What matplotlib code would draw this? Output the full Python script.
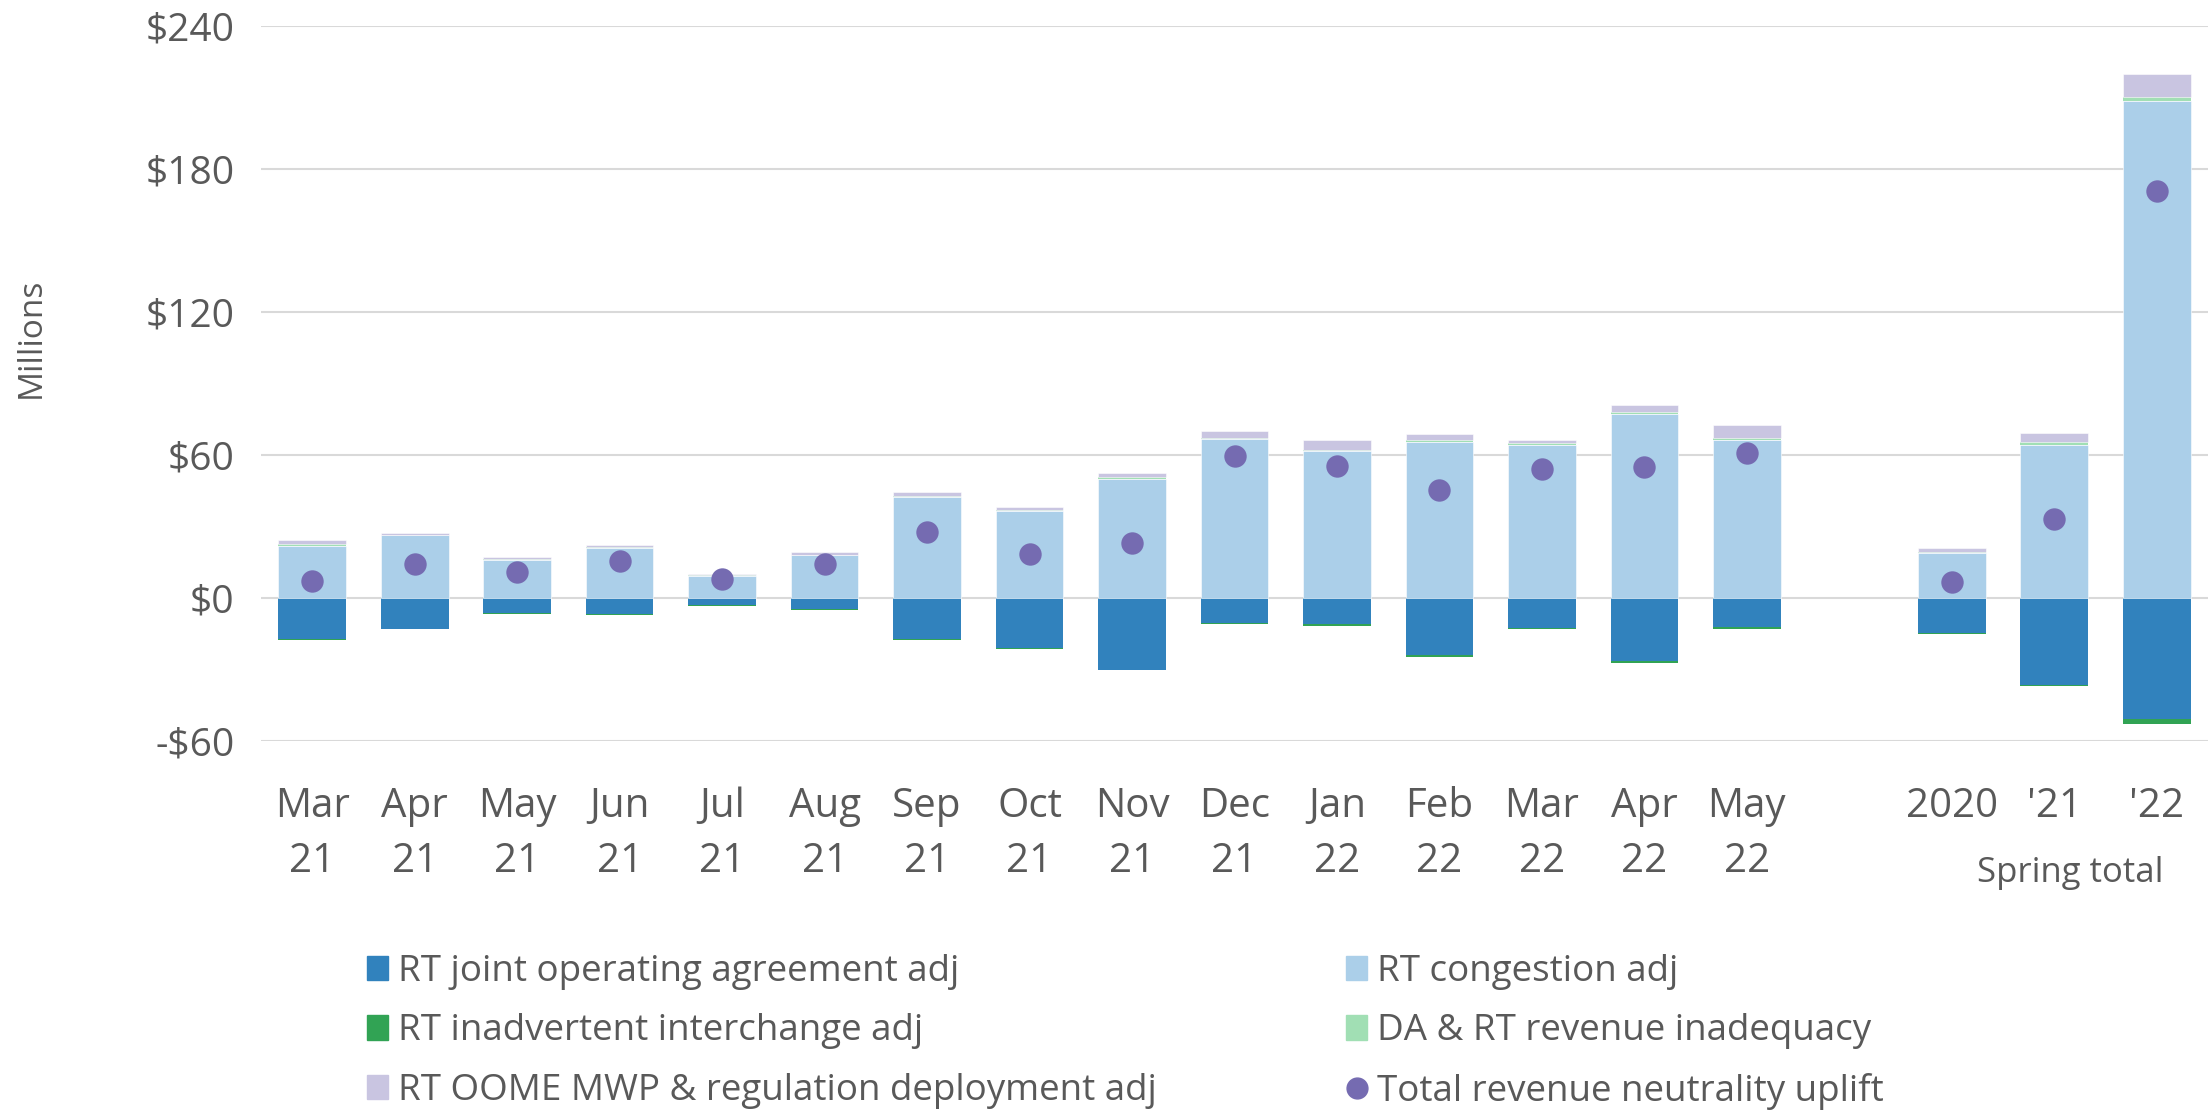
import numpy as np
import matplotlib
matplotlib.use("Agg")
import matplotlib.pyplot as plt
from matplotlib.ticker import FuncFormatter
from matplotlib.lines import Line2D
from matplotlib.patches import Patch

plt.rcParams['font.family'] = ['Open Sans', 'DejaVu Sans']

# monthly bars, then a gap, then the spring totals
labels = ["Mar\n21", "Apr\n21", "May\n21", "Jun\n21", "Jul\n21", "Aug\n21", "Sep\n21",
          "Oct\n21", "Nov\n21", "Dec\n21", "Jan\n22", "Feb\n22", "Mar\n22", "Apr\n22",
          "May\n22", "2020", "'21", "'22"]

joa = [-17.3, -12.9, -6.5, -6.9, -3.1, -4.8, -17.3, -20.9, -30.0, -10.4, -10.9, -24.0,
       -12.5, -26.5, -12.1, -14.6, -36.5, -50.9]
inadvertent = [-0.3, -0.2, -0.4, -0.4, -0.3, -0.3, -0.4, -0.5, -0.4, -0.6, -0.7, -0.6,
               -0.7, -0.7, -0.7, -0.5, -0.3, -1.9]
congestion = [21.7, 26.3, 16.1, 21.1, 9.4, 17.9, 42.2, 36.7, 50.1, 66.8, 61.8, 65.5,
              64.3, 77.4, 66.4, 18.8, 64.3, 208.7]
inadequacy = [1.0, 0.3, 0.3, 0.3, 0.2, 0.3, 0.8, 0.4, 0.8, 0.4, 0.4, 0.6, 0.6, 0.6,
              0.8, 0.4, 1.0, 1.7]
oome = [1.5, 0.8, 1.0, 1.0, 0.6, 1.2, 1.5, 1.2, 1.5, 2.9, 4.0, 2.7, 1.3, 2.9, 5.4,
        1.7, 4.0, 9.6]
total_uplift = [7.3, 14.2, 11.1, 15.7, 7.9, 14.4, 27.5, 18.4, 23.0, 59.7, 55.5, 45.3,
                54.3, 55.1, 60.9, 6.9, 33.2, 170.9]

c_joa = '#3182bd'
c_cong = '#abcfe9'
c_inadv = '#31a354'
c_inadeq = '#a1dfb4'
c_oome = '#c9c5e1'
c_dot = '#756bb1'
text_col = '#595959'

# slot 15 stays empty between months and spring totals
x = np.array(list(range(15)) + [16, 17, 18])
w = 0.66

fig = plt.figure(figsize=(22.08, 11.10), dpi=100)
ax = fig.add_axes([261 / 2208, 1 - 741 / 1110, (2208 - 261) / 2208, (741 - 26) / 1110])

cong = np.array(congestion)
inq = np.array(inadequacy)
ax.bar(x, joa, w, color=c_joa, zorder=2)
ax.bar(x, inadvertent, w, bottom=joa, color=c_inadv, zorder=2)
ax.bar(x, cong, w, color=c_cong, edgecolor='white', linewidth=0.4, zorder=2)
ax.bar(x, inq, w, bottom=cong, color=c_inadeq, zorder=2)
ax.bar(x, oome, w, bottom=cong + inq, color=c_oome, edgecolor='white', linewidth=0.4, zorder=2)
ax.scatter(x, total_uplift, s=260, color=c_dot, zorder=4, linewidths=0)

ax.set_xlim(-0.5, 18.5)
ax.set_ylim(-60, 240)
ax.set_yticks([-60, 0, 60, 120, 180, 240])
ax.yaxis.set_major_formatter(FuncFormatter(lambda v, p: f"${v:.0f}" if v >= 0 else f"-${-v:.0f}"))
ax.set_xticks(x)
ax.set_xticklabels(labels, linespacing=1.48)
ax.tick_params(axis='x', length=0, pad=33, labelsize=29, labelcolor=text_col)
ax.tick_params(axis='y', length=0, pad=19, labelsize=28, labelcolor=text_col)
ax.grid(axis='y', color='#d9d9d9', linewidth=1.5, zorder=0)
ax.set_axisbelow(True)
for s in ax.spines.values():
    s.set_visible(False)

fig.text(31 / 2208, 1 - 338 / 1110, "Millions", rotation=90, ha='center', va='center',
         fontsize=24, color=text_col)
fig.text(2070 / 2208, 1 - 882 / 1110, "Spring total", ha='center', va='baseline',
         fontsize=25, color=text_col)

handles = [
    Patch(color=c_joa, label='RT joint operating agreement adj'),
    Patch(color=c_inadv, label='RT inadvertent interchange adj'),
    Patch(color=c_oome, label='RT OOME MWP & regulation deployment adj'),
    Patch(color=c_cong, label='RT congestion adj'),
    Patch(color=c_inadeq, label='DA & RT revenue inadequacy'),
    Line2D([], [], marker='o', linestyle='none', color=c_dot, markersize=15,
           label='Total revenue neutrality uplift'),
]
leg = fig.legend(handles=handles, ncol=2, loc='upper left',
                 bbox_to_anchor=(352 / 2208, 1 - 939 / 1110), frameon=False,
                 fontsize=26.5, labelcolor=text_col, handlelength=0.57, handleheight=0.65,
                 handletextpad=0.27, columnspacing=5.16, labelspacing=0.64, borderaxespad=0)

fig.savefig('out.png', dpi=100)
